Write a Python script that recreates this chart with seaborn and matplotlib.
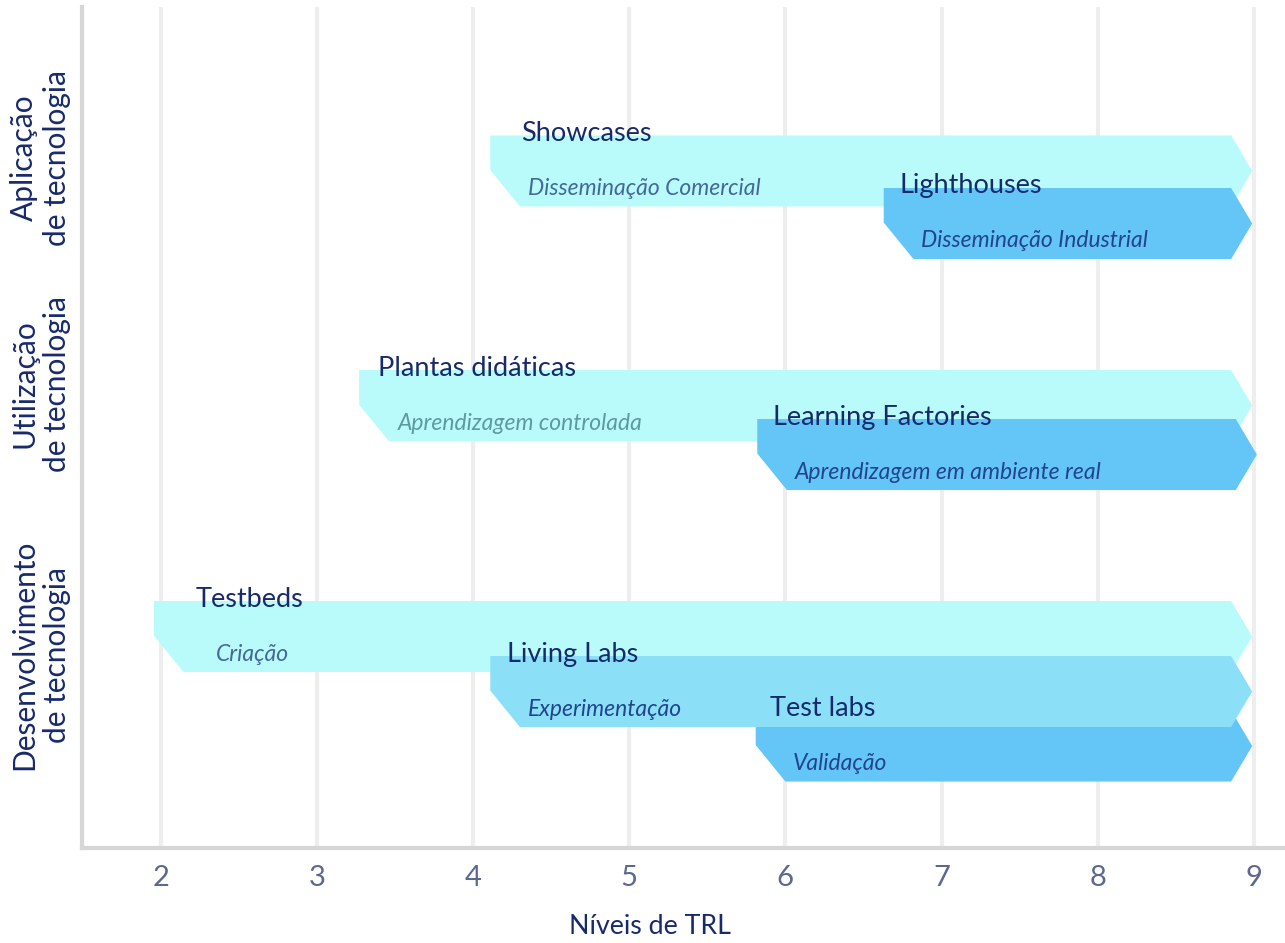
import numpy as np
import seaborn as sns
import matplotlib.pyplot as plt
from matplotlib.patches import Polygon

# dados
nomes = ['Showcases', 'Lighthouses', 'Plantas didáticas', 'Learning Factories',
         'Testbeds', 'Test labs', 'Living Labs']
subtitulos = ['Disseminação Comercial', 'Disseminação Industrial', 'Aprendizagem controlada',
              'Aprendizagem em ambiente real', 'Criação', 'Validação', 'Experimentação']
inicio = [4.11, 6.63, 3.27, 5.82, 1.955, 5.81, 4.11]   # nivel TRL de inicio
fim = [8.99, 8.99, 8.99, 9.02, 8.99, 8.99, 8.99]         # ponta da seta
linha = [1.71, 2.235, 4.055, 4.545, 6.365, 7.46, 6.915]  # centro de cada faixa
tom = [0, 2, 0, 2, 0, 2, 1]

grupos = ['Aplicação\nde tecnologia', 'Utilização\nde tecnologia',
          'Desenvolvimento\nde tecnologia']
pos_grupos = [1.58, 3.84, 6.55]
niveis = [2, 3, 4, 5, 6, 7, 8, 9]

# layout
cores = ['#b9fbfa', '#8be0f8', '#63c6f6']
cor_sub = ['#45689a', '#22448f', '#22448f']
desloc_titulo = [0.20, 0.10, 0.12, 0.10, 0.27, 0.09, 0.11]
desloc_sub = [0.24, 0.24, 0.25, 0.24, 0.40, 0.24, 0.24]
altura = 0.71
navy = '#172a6b'

sns.set_style('white')
plt.rcParams['font.family'] = ['Lato', 'DejaVu Sans']

fig = plt.figure(figsize=(12.85, 9.43), dpi=100)
ax = fig.add_axes([0.0638, 0.1007, 0.9362, 0.8919])

for i in range(len(nomes)):
    x0, xe, yc = inicio[i], fim[i], linha[i]
    yt, yb = yc - altura / 2, yc + altura / 2
    pts = [(x0, yt), (xe - 0.135, yt), (xe, yc), (xe - 0.135, yb),
           (x0 + 0.19, yb), (x0, yc - 0.01)]
    ax.add_patch(Polygon(pts, closed=True, facecolor=cores[tom[i]],
                         edgecolor='none', zorder=2 + i))
for i in range(len(nomes)):
    yt = linha[i] - altura / 2
    ax.text(inicio[i] + desloc_titulo[i], yt - 0.02, nomes[i], fontsize=19.5,
            color=navy, va='center', ha='left', zorder=20)
    cs = '#5c9a9f' if nomes[i] == 'Plantas didáticas' else cor_sub[tom[i]]
    ax.text(inicio[i] + desloc_sub[i], yt + 0.53, subtitulos[i], fontsize=16.5,
            style='italic', color=cs, va='center', ha='left', zorder=20)

ax.set_xlim(1.495, 9.2)
ax.set_ylim(8.48, 0.07)
ax.set_xticks(niveis)
ax.set_xticklabels([str(n) for n in niveis], fontsize=21, color='#5d6890')
ax.set_yticks(pos_grupos)
ax.set_yticklabels(grupos, rotation=90, fontsize=21.5, color=navy,
                   va='center', ha='center', multialignment='center')
ax.tick_params(axis='y', pad=30, length=0)
ax.tick_params(axis='x', pad=12, length=0)
ax.set_xlabel('Níveis de TRL', fontsize=19.3, color=navy)
ax.xaxis.set_label_coords(0.472, -0.078)

ax.grid(axis='x', color='#eeeeee', linewidth=3, zorder=0)
ax.grid(axis='y', visible=False)
ax.set_axisbelow(True)
sns.despine(ax=ax, top=True, right=True)
for s in ['left', 'bottom']:
    ax.spines[s].set_color('#d6d6d6')
    ax.spines[s].set_linewidth(3)

fig.savefig('out.png', dpi=100)
